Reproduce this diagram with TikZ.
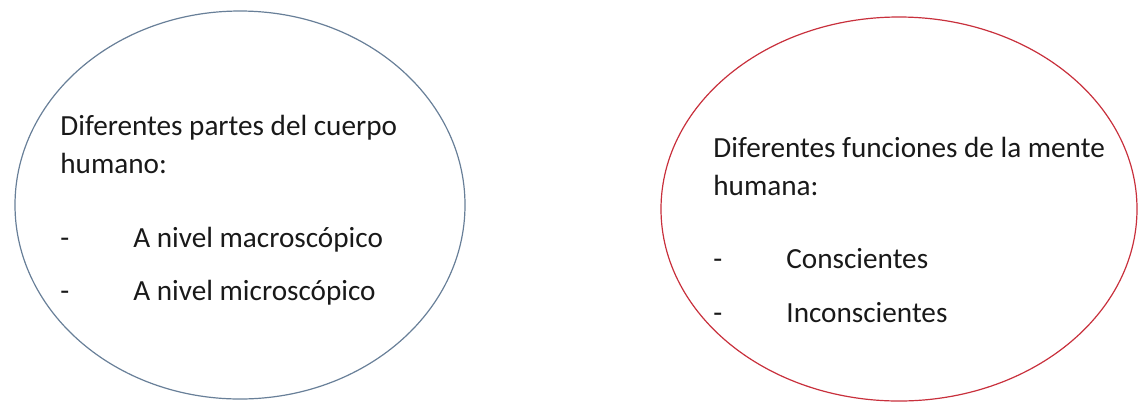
\documentclass[tikz,border=0pt]{standalone}
\usepackage{fontspec}
\setmainfont{Carlito}
\definecolor{leftline}{HTML}{687F98}
\definecolor{rightline}{HTML}{C8303C}
\tikzset{
  txt/.style={anchor=base west, inner sep=0pt, font=\fontsize{14.6}{17}\selectfont, text=black!90},
  oval/.style={line width=0.6pt}
}

\begin{document}
\begin{tikzpicture}[x=0.5pt, y=-0.5pt]

\def\dx{73}

\useasboundingbox (0,0) rectangle (1145,403);

% cuerpo
\draw[oval, leftline] (240,205) ellipse [x radius=225, y radius=194];
\node[txt] (ca) at (60,135) {Diferentes partes del cuerpo};
\node[txt] (cb) at (60,173) {humano:};
\node[txt] (cd1) at (60,247) {-};
\node[txt] (c1) at (60+\dx,247) {A nivel macroscópico};
\node[txt] (cd2) at (60,300) {-};
\node[txt] (c2) at (60+\dx,300) {A nivel microscópico};

% mente
\draw[oval, rightline] (899,209) ellipse [x radius=238, y radius=192];
\node[txt] (ma) at (713,157) {Diferentes funciones de la mente};
\node[txt] (mb) at (713,195) {humana:};
\node[txt] (md1) at (713,268) {-};
\node[txt] (m1) at (713+\dx,268) {Conscientes};
\node[txt] (md2) at (713,322) {-};
\node[txt] (m2) at (713+\dx,322) {Inconscientes};

\end{tikzpicture}
\end{document}
